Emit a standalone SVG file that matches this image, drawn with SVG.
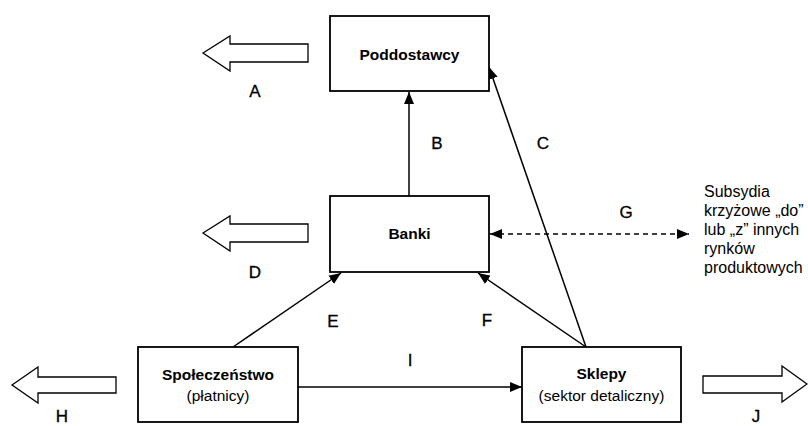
<svg xmlns="http://www.w3.org/2000/svg" width="808" height="426" viewBox="0 0 808 426">
<style>
  .box { fill: #fff; stroke: #000; stroke-width: 1.8; }
  .bt { font-family: "Liberation Sans", Arial, sans-serif; font-size: 15.5px; font-weight: bold; text-anchor: middle; fill: #000; }
  .rt { font-family: "Liberation Sans", Arial, sans-serif; font-size: 15.5px; text-anchor: middle; fill: #000; }
  .lbl { font-family: "Liberation Sans", Arial, sans-serif; font-size: 17px; text-anchor: middle; fill: #000; stroke: #000; stroke-width: 0.3; }
  .side { font-family: "Liberation Sans", Arial, sans-serif; font-size: 16px; fill: #000; }
  .conn { fill: none; stroke: #000; stroke-width: 1.5; }
  .dash { stroke-dasharray: 5 4; }
  .hollow { fill: #fff; stroke: #000; stroke-width: 1.3; stroke-linejoin: miter; }
</style>
<defs>
  <marker id="ah" viewBox="0 0 12 10" refX="12" refY="5" markerWidth="12" markerHeight="10" markerUnits="userSpaceOnUse" orient="auto-start-reverse">
    <path d="M0,0 L12,5 L0,10 z" fill="#000"/>
  </marker>
</defs>
<rect width="808" height="426" fill="#fff"/>

<g id="connectors">
  <path class="conn" d="M409,196 L409,92" marker-end="url(#ah)"/>
  <path class="conn" d="M586,347 L489,67" marker-end="url(#ah)"/>
  <path class="conn" d="M586,347 L478,273" marker-end="url(#ah)"/>
  <path class="conn" d="M233,347 L341,273" marker-end="url(#ah)"/>
  <path class="conn" d="M298,387 L522,387" marker-end="url(#ah)"/>
  <path class="conn dash" d="M490,234 L689,234" marker-start="url(#ah)" marker-end="url(#ah)"/>
</g>

<g id="outflows">
  <polygon class="hollow" points="203,53 230,36 230,44 308,44 308,62 230,62 230,71"/>
  <polygon class="hollow" points="203,233 230,216 230,224 308,224 308,242 230,242 230,251"/>
  <polygon class="hollow" points="12,385 38,367 38,377 116,377 116,393 38,393 38,403"/>
  <polygon class="hollow" points="807,384 782,366 782,376 703,376 703,393 782,393 782,402"/>
</g>

<g id="node-poddostawcy">
  <rect class="box" x="330" y="16" width="159" height="75"/>
  <text class="bt" x="409.5" y="60">Poddostawcy</text>
</g>
<g id="node-banki">
  <rect class="box" x="330" y="196" width="159" height="76"/>
  <text class="bt" x="409.5" y="239">Banki</text>
</g>
<g id="node-spoleczenstwo">
  <rect class="box" x="138" y="347" width="160" height="75"/>
  <text class="bt" x="218" y="380">Społeczeństwo</text>
  <text class="rt" x="218" y="401">(płatnicy)</text>
</g>
<g id="node-sklepy">
  <rect class="box" x="522" y="347" width="159" height="75"/>
  <text class="bt" x="601.5" y="379">Sklepy</text>
  <text class="rt" x="601.5" y="401">(sektor detaliczny)</text>
</g>

<g id="labels">
  <text class="lbl" x="255" y="97">A</text>
  <text class="lbl" x="437" y="149">B</text>
  <text class="lbl" x="543" y="149">C</text>
  <text class="lbl" x="255" y="278">D</text>
  <text class="lbl" x="333" y="327">E</text>
  <text class="lbl" x="487" y="326">F</text>
  <text class="lbl" x="626" y="218">G</text>
  <text class="lbl" x="62" y="422">H</text>
  <text class="lbl" x="410" y="366">I</text>
  <text class="lbl" x="756" y="422">J</text>
</g>

<g id="note-g">
  <text class="side" x="704" y="197">Subsydia</text>
  <text class="side" x="704" y="216">krzyżowe „do”</text>
  <text class="side" x="704" y="235">lub „z” innych</text>
  <text class="side" x="704" y="254">rynków</text>
  <text class="side" x="704" y="273">produktowych</text>
</g>
</svg>
